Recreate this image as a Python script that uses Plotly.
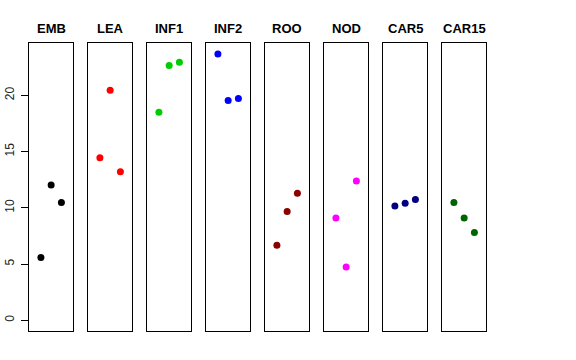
import plotly.graph_objects as go

categories = ["EMB", "LEA", "INF1", "INF2", "ROO", "NOD", "CAR5", "CAR15"]
x_positions = [1, 2, 3]
values = {
    "EMB": [5.58, 12.03, 10.46],
    "LEA": [14.45, 20.45, 13.21],
    "INF1": [18.5, 22.64, 22.93],
    "INF2": [23.67, 19.54, 19.72],
    "ROO": [6.68, 9.66, 11.29],
    "NOD": [9.1, 4.73, 12.38],
    "CAR5": [10.17, 10.41, 10.73],
    "CAR15": [10.46, 9.1, 7.8],
}
colors = ["#000000", "#FF0000", "#00CD00", "#0000FF", "#8B0000", "#FF00FF", "#000080", "#006400"]
y_ticks = [0, 5, 10, 15, 20]

W, H = 576, 360
left0, pw, step = 29.0, 44.3, 59.0
top_px, bot_px = 43.3, 331.0

fig = go.Figure()
layout = dict(
    width=W, height=H, margin=dict(l=0, r=0, t=0, b=0),
    plot_bgcolor="white", paper_bgcolor="white", showlegend=False,
    font=dict(family="Liberation Sans, Arial, sans-serif", color="black"),
)
annotations = []
for i, cat in enumerate(categories):
    n = "" if i == 0 else str(i + 1)
    x0 = (left0 + i * step) / W
    x1 = (left0 + i * step + pw) / W
    fig.add_trace(go.Scatter(
        x=x_positions, y=values[cat], mode="markers",
        marker=dict(color=colors[i], size=7),
        xaxis="x" + n, yaxis="y" + n, hoverinfo="skip",
    ))
    layout["xaxis" + n] = dict(
        domain=[x0, x1], range=[-0.16, 4.16], anchor="y" + n,
        showgrid=False, zeroline=False, showticklabels=False, ticks="",
        showline=True, mirror=True, linecolor="black", linewidth=1,
    )
    yax = dict(
        domain=[1 - bot_px / H, 1 - top_px / H], range=[-0.95, 24.62], anchor="x" + n,
        showgrid=False, zeroline=False,
        showline=True, mirror=True, linecolor="black", linewidth=1,
    )
    if i == 0:
        yax.update(tickvals=y_ticks, ticks="outside", ticklen=7, tickcolor="black",
                   tickangle=-90, tickfont=dict(size=12, color="#222"),
                   ticklabelstandoff=2)
    else:
        yax.update(showticklabels=False, ticks="")
    layout["yaxis" + n] = yax
    annotations.append(dict(
        x=(x0 + x1) / 2, y=1 - 28.3 / H, xref="paper", yref="paper",
        text="<b>" + cat + "</b>", showarrow=False, xanchor="center", yanchor="middle",
        font=dict(size=13, color="black", family="Liberation Sans, Arial, sans-serif"),
    ))
layout["annotations"] = annotations
fig.update_layout(**layout)
fig.write_html("out.html", config={"displayModeBar": False},
               post_script="document.body.style.margin='0';")
